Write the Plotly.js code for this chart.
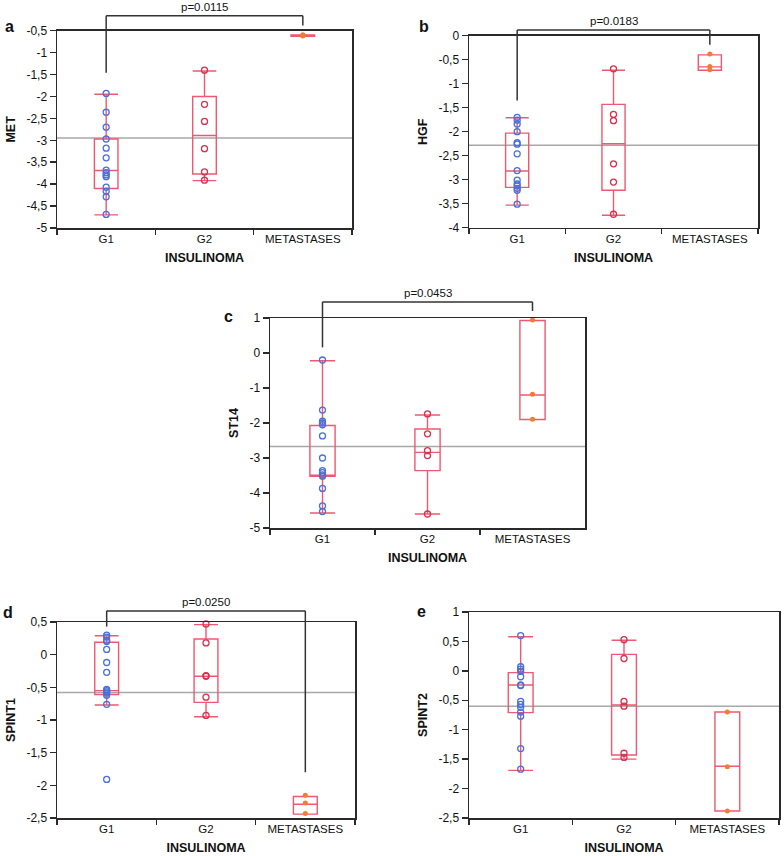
<!DOCTYPE html>
<html><head><meta charset="utf-8">
<script src="https://cdn.plot.ly/plotly-3.0.1.min.js"></script>
<style>html,body{margin:0;padding:0;background:#fff}</style>
</head><body><div id="chart" style="width:784px;height:856px"></div>
<script>
const categories = ['G1', 'G2', 'METASTASES'];

// Panel a: MET
const metG1 = [-1.93, -2.36, -2.70, -2.97, -3.18, -3.40, -3.68, -3.74, -3.79, -3.83, -4.07, -4.16, -4.29, -4.69];
const metG2 = [-1.40, -2.18, -2.57, -3.19, -3.72, -3.91];
const metMet = [-0.59, -0.61, -0.62];
const metQ1 = [-4.10, -3.77, -0.625];
const metMedian = [-3.69, -2.89, -0.61];
const metQ3 = [-2.97, -2.00, -0.595];
const metLow = [-4.70, -3.92, -0.625];
const metHigh = [-1.95, -1.42, -0.595];
const metMean = -2.95;
const metTicks = [-5, -4.5, -4, -3.5, -3, -2.5, -2, -1.5, -1, -0.5];
const metTickText = ['-5', '-4,5', '-4', '-3,5', '-3', '-2,5', '-2', '-1,5', '-1', '-0,5'];

// Panel b: HGF
const hgfG1 = [-1.70, -1.76, -1.84, -2.00, -2.23, -2.26, -2.46, -2.81, -3.01, -3.09, -3.13, -3.18, -3.22, -3.51];
const hgfG2 = [-0.69, -1.64, -1.77, -2.67, -3.05, -3.72];
const hgfMet = [-0.38, -0.64, -0.71];
const hgfQ1 = [-3.16, -3.22, -0.72];
const hgfMedian = [-2.82, -2.25, -0.65];
const hgfQ3 = [-2.03, -1.43, -0.40];
const hgfLow = [-3.53, -3.74, -0.72];
const hgfHigh = [-1.71, -0.72, -0.40];
const hgfMean = -2.28;
const hgfTicks = [-4, -3.5, -3, -2.5, -2, -1.5, -1, -0.5, 0];
const hgfTickText = ['-4', '-3,5', '-3', '-2,5', '-2', '-1,5', '-1', '-0,5', '0'];

// Panel c: ST14
const st14G1 = [-0.20, -1.63, -1.95, -2.00, -2.05, -2.37, -3.00, -3.36, -3.42, -3.48, -3.52, -3.87, -4.37, -4.53];
const st14G2 = [-1.74, -2.31, -2.79, -2.93, -4.60];
const st14Met = [0.94, -1.18, -1.89];
const st14Q1 = [-3.52, -3.36, -1.90];
const st14Median = [-3.50, -2.84, -1.20];
const st14Q3 = [-2.07, -2.17, 0.93];
const st14Low = [-4.57, -4.60, -1.90];
const st14High = [-0.22, -1.77, 0.93];
const st14Mean = -2.67;
const st14Ticks = [-5, -4, -3, -2, -1, 0, 1];
const st14TickText = ['-5', '-4', '-3', '-2', '-1', '0', '1'];

// Panel d: SPINT1
const spint1G1 = [0.30, 0.27, 0.22, 0.20, 0.08, -0.12, -0.27, -0.53, -0.55, -0.57, -0.59, -0.62, -0.76, -1.91];
const spint1G2 = [0.47, 0.18, -0.32, -0.33, -0.65, -0.93];
const spint1Met = [-2.15, -2.27, -2.43];
const spint1Q1 = [-0.61, -0.73, -2.44];
const spint1Median = [-0.55, -0.33, -2.29];
const spint1Q3 = [0.19, 0.24, -2.17];
const spint1Low = [-0.77, -0.95, -2.44];
const spint1High = [0.29, 0.46, -2.17];
const spint1Mean = -0.58;
const spint1Ticks = [-2.5, -2, -1.5, -1, -0.5, 0, 0.5];
const spint1TickText = ['-2,5', '-2', '-1,5', '-1', '-0,5', '0', '0,5'];

// Panel e: SPINT2
const spint2G1 = [0.60, 0.07, 0.03, -0.01, -0.10, -0.24, -0.25, -0.52, -0.57, -0.62, -0.70, -0.77, -1.32, -1.67];
const spint2G2 = [0.53, 0.21, -0.52, -0.60, -1.40, -1.47];
const spint2Met = [-0.70, -1.63, -2.38];
const spint2Q1 = [-0.71, -1.43, -2.38];
const spint2Median = [-0.24, -0.58, -1.62];
const spint2Q3 = [-0.03, 0.28, -0.70];
const spint2Low = [-1.69, -1.50, -2.38];
const spint2High = [0.58, 0.52, -0.70];
const spint2Mean = -0.60;
const spint2Ticks = [-2.5, -2, -1.5, -1, -0.5, 0, 0.5, 1];
const spint2TickText = ['-2,5', '-2', '-1,5', '-1', '-0,5', '0', '0,5', '1'];

// p-value comparisons
const pLabels = ['p=0.0115', 'p=0.0183', 'p=0.0453', 'p=0.0250'];

const W = 784, H = 856;
const FONT = 'Liberation Sans, Arial, Helvetica, sans-serif';
const BOX_COLOR = '#ef5870';
const G1_COLOR = '#4a70dc';
const G2_COLOR = '#d8324f';
const MET_COLOR = '#f07d32';
const AXIS_COLOR = '#2a2a2a';
const TEXT_COLOR = '#111111';

const panels = [
  {letter: 'a', ytitle: 'MET', g1: metG1, g2: metG2, met: metMet, q1: metQ1, med: metMedian, q3: metQ3, lo: metLow, hi: metHigh,
   mean: metMean, range: [-5, -0.5], tickvals: metTicks, ticktext: metTickText, px: [57, 352], py: [30.7, 228],
   bracket: {a: 'G1', b: 'METASTASES', top: -0.16, legA: -1.46, legB: -0.38, p: pLabels[0]}, letterPos: [9, 27]},
  {letter: 'b', ytitle: 'HGF', g1: hgfG1, g2: hgfG2, met: hgfMet, q1: hgfQ1, med: hgfMedian, q3: hgfQ3, lo: hgfLow, hi: hgfHigh,
   mean: hgfMean, range: [-4, 0], tickvals: hgfTicks, ticktext: hgfTickText, px: [469, 758], py: [35.7, 227.7],
   bracket: {a: 'G1', b: 'METASTASES', top: 0.12, legA: -1.35, legB: -0.19, p: pLabels[1]}, letterPos: [424, 27]},
  {letter: 'c', ytitle: 'ST14', g1: st14G1, g2: st14G2, met: st14Met, q1: st14Q1, med: st14Median, q3: st14Q3, lo: st14Low, hi: st14High,
   mean: st14Mean, range: [-5, 1], tickvals: st14Ticks, ticktext: st14TickText, px: [270, 585], py: [318, 528],
   bracket: {a: 'G1', b: 'METASTASES', top: 1.46, legA: 0.16, legB: 1.2, p: pLabels[2]}, letterPos: [229, 317]},
  {letter: 'd', ytitle: 'SPINT1', g1: spint1G1, g2: spint1G2, met: spint1Met, q1: spint1Q1, med: spint1Median, q3: spint1Q3, lo: spint1Low, hi: spint1High,
   mean: spint1Mean, range: [-2.5, 0.5], tickvals: spint1Ticks, ticktext: spint1TickText, px: [57, 355], py: [622, 818],
   bracket: {a: 'G1', b: 'METASTASES', top: 0.67, legA: 0.43, legB: -1.80, p: pLabels[3]}, letterPos: [8, 612]},
  {letter: 'e', ytitle: 'SPINT2', g1: spint2G1, g2: spint2G2, met: spint2Met, q1: spint2Q1, med: spint2Median, q3: spint2Q3, lo: spint2Low, hi: spint2High,
   mean: spint2Mean, range: [-2.5, 1], tickvals: spint2Ticks, ticktext: spint2TickText, px: [469, 779], py: [612, 818],
   bracket: null, letterPos: [421, 611]}
];

const data = [];
const shapes = [];
const annotations = [];
const layout = {
  width: W, height: H,
  margin: {l: 0, r: 0, t: 0, b: 0},
  paper_bgcolor: '#ffffff', plot_bgcolor: '#ffffff',
  showlegend: false,
  font: {family: FONT, size: 11, color: TEXT_COLOR}
};

panels.forEach((p, i) => {
  const s = i === 0 ? '' : String(i + 1);
  const xa = 'x' + s, ya = 'y' + s;
  const xd = [p.px[0] / W, p.px[1] / W];
  const yd = [1 - p.py[1] / H, 1 - p.py[0] / H];

  layout['xaxis' + s] = {
    domain: xd, anchor: ya, type: 'category', categoryorder: 'array', categoryarray: categories,
    range: [-0.5, 2.5], fixedrange: true,
    showline: true, linecolor: AXIS_COLOR, linewidth: 1.5, mirror: true,
    ticks: 'outside', tickson: 'boundaries', ticklen: 5, tickwidth: 1.5, tickcolor: AXIS_COLOR,
    showgrid: false, zeroline: false,
    tickfont: {family: FONT, size: 11.5, color: TEXT_COLOR},
    title: {text: '<b>INSULINOMA</b>', font: {family: FONT, size: 12.5, color: TEXT_COLOR}, standoff: 9}
  };
  layout['yaxis' + s] = {
    domain: yd, anchor: xa, range: p.range, fixedrange: true,
    showline: true, linecolor: AXIS_COLOR, linewidth: 1.5, mirror: true,
    ticks: 'outside', ticklen: 6, tickwidth: 1.5, tickcolor: AXIS_COLOR,
    tickvals: p.tickvals, ticktext: p.ticktext,
    showgrid: false, zeroline: false,
    tickfont: {family: FONT, size: 12, color: TEXT_COLOR},
    title: {text: '<b>' + p.ytitle + '</b>', font: {family: FONT, size: 12.5, color: TEXT_COLOR}, standoff: 8}
  };

  data.push({
    type: 'box', x: categories, q1: p.q1, median: p.med, q3: p.q3, lowerfence: p.lo, upperfence: p.hi,
    xaxis: xa, yaxis: ya, boxpoints: false, width: 0.24, whiskerwidth: 1,
    line: {color: BOX_COLOR, width: 1.4}, fillcolor: 'rgba(0,0,0,0)', hoverinfo: 'skip'
  });
  data.push({
    type: 'scatter', mode: 'markers', x: p.g1.map(() => categories[0]), y: p.g1, xaxis: xa, yaxis: ya,
    marker: {symbol: 'circle-open', size: 6, color: G1_COLOR, line: {width: 1.3}}, cliponaxis: false, hoverinfo: 'y'
  });
  data.push({
    type: 'scatter', mode: 'markers', x: p.g2.map(() => categories[1]), y: p.g2, xaxis: xa, yaxis: ya,
    marker: {symbol: 'circle-open', size: 6, color: G2_COLOR, line: {width: 1.3}}, cliponaxis: false, hoverinfo: 'y'
  });
  data.push({
    type: 'scatter', mode: 'markers', x: p.met.map(() => categories[2]), y: p.met, xaxis: xa, yaxis: ya,
    marker: {symbol: 'circle', size: 5, color: MET_COLOR}, cliponaxis: false, hoverinfo: 'y'
  });

  // grand mean line
  shapes.push({type: 'line', layer: 'below', xref: xa + ' domain', x0: 0, x1: 1, yref: ya, y0: p.mean, y1: p.mean,
    line: {color: '#a8a8a8', width: 1.5}});

  // panel letter
  annotations.push({xref: 'paper', yref: 'paper', x: p.letterPos[0] / W, y: 1 - p.letterPos[1] / H,
    xanchor: 'center', yanchor: 'middle', showarrow: false,
    text: '<b>' + p.letter + '</b>', font: {family: FONT, size: 16, color: '#111'}});

  if (p.bracket) {
    const b = p.bracket;
    const toDom = v => (v - p.range[0]) / (p.range[1] - p.range[0]);
    const iA = categories.indexOf(b.a), iB = categories.indexOf(b.b);
    const ydr = ya + ' domain';
    const ln = {color: '#333333', width: 1.5};
    shapes.push({type: 'line', xref: xa, yref: ydr, x0: iA, x1: iA, y0: toDom(b.top), y1: toDom(b.legA), line: ln});
    shapes.push({type: 'line', xref: xa, yref: ydr, x0: iA, x1: iB, y0: toDom(b.top), y1: toDom(b.top), line: ln});
    shapes.push({type: 'line', xref: xa, yref: ydr, x0: iB, x1: iB, y0: toDom(b.top), y1: toDom(b.legB), line: ln});
    annotations.push({xref: xa, yref: 'paper', x: (iA + iB) / 2,
      y: yd[0] + toDom(b.top) * (yd[1] - yd[0]), yanchor: 'bottom', yshift: 1,
      showarrow: false, text: b.p, font: {family: FONT, size: 11.5, color: TEXT_COLOR}});
  }
});

layout.shapes = shapes;
layout.annotations = annotations;

Plotly.newPlot('chart', data, layout, {staticPlot: true, displayModeBar: false});
</script>
</body></html>
